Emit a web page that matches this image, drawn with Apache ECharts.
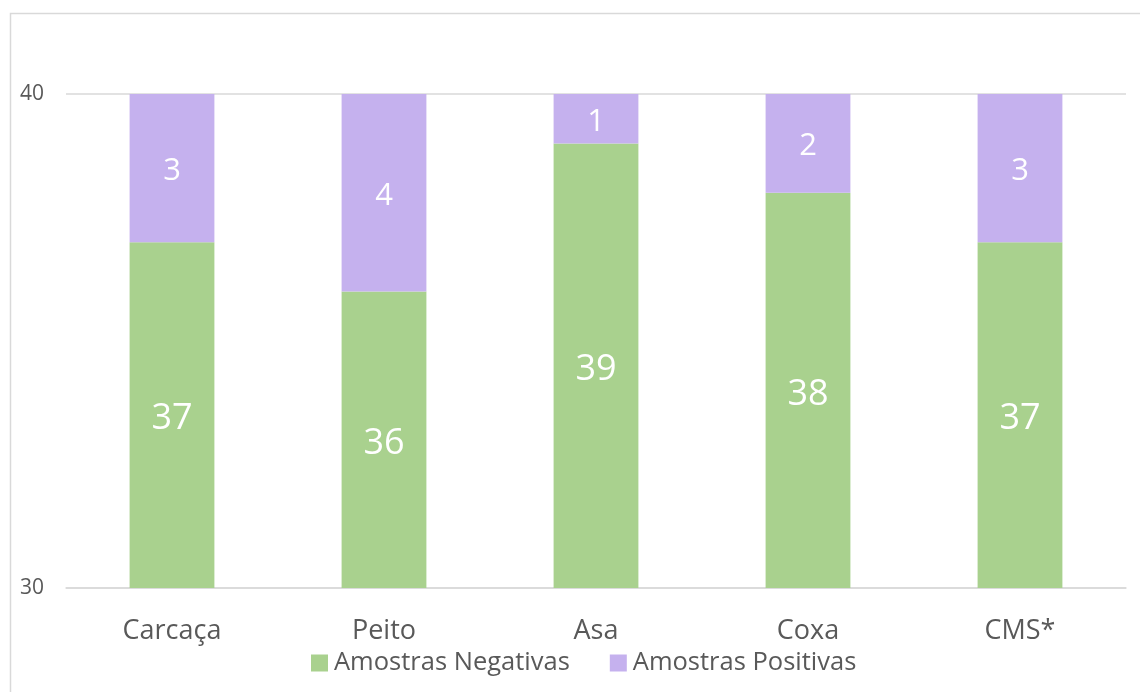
<!DOCTYPE html>
<html>
<head>
<meta charset="utf-8">
<script src="https://cdn.jsdelivr.net/npm/echarts@6/dist/echarts.min.js"></script>
<style>
html,body{margin:0;padding:0;background:#fff;}
#c{width:1140px;height:692px;}
</style>
</head>
<body>
<div id="c"></div>
<script>
const categories = ['Carcaça', 'Peito', 'Asa', 'Coxa', 'CMS*'];
const negativas = [37, 36, 39, 38, 37];
const positivas = [3, 4, 1, 2, 3];
const yMin = 30, yMax = 40;

const FONT = 'Open Sans';
const chart = echarts.init(document.getElementById('c'), null, {renderer: 'canvas'});
chart.setOption({
  animation: false,
  backgroundColor: '#fff',
  textStyle: {fontFamily: FONT},
  graphic: [{
    type: 'rect',
    shape: {x: 10.5, y: 13.5, width: 1200, height: 800},
    style: {fill: 'none', stroke: '#d9d9d9', lineWidth: 1.5},
    silent: true
  }],
  grid: {left: 66, right: 14, top: 94, bottom: 104, containLabel: false},
  legend: {
    top: 650,
    left: 311,
    padding: 0,
    itemWidth: 17, itemHeight: 17,
    itemGap: 40,
    icon: 'rect',
    textStyle: {fontFamily: FONT, fontSize: 25.5, lineHeight: 26, color: '#595959', padding: [0, 0, 0, 1]},
    data: ['Amostras Negativas', 'Amostras Positivas']
  },
  xAxis: {
    type: 'category',
    data: categories,
    axisLine: {show: true, lineStyle: {color: '#d9d9d9', width: 1.5}},
    axisTick: {show: false},
    axisLabel: {fontFamily: FONT, fontSize: 27, color: '#595959', margin: 30}
  },
  yAxis: {
    type: 'value',
    min: yMin, max: yMax, interval: 10,
    axisLine: {show: false},
    axisTick: {show: false},
    splitLine: {lineStyle: {color: '#d9d9d9', width: 1.5}},
    axisLabel: {fontFamily: FONT, fontSize: 21, color: '#595959', margin: 22}
  },
  series: [{
    name: 'Amostras Negativas',
    type: 'bar',
    stack: 'a',
    data: negativas,
    barWidth: '40%',
    itemStyle: {color: '#A9D18E'},
    label: {show: true, position: 'inside', offset: [0, 4], color: '#fff', fontFamily: FONT, fontSize: 36}
  }, {
    name: 'Amostras Positivas',
    type: 'bar',
    stack: 'a',
    data: positivas,
    barWidth: '40%',
    itemStyle: {color: '#C5B1EE'},
    label: {show: true, position: 'inside', offset: [0, 3], color: '#fff', fontFamily: FONT, fontSize: 31}
  }]
});
</script>
</body>
</html>
